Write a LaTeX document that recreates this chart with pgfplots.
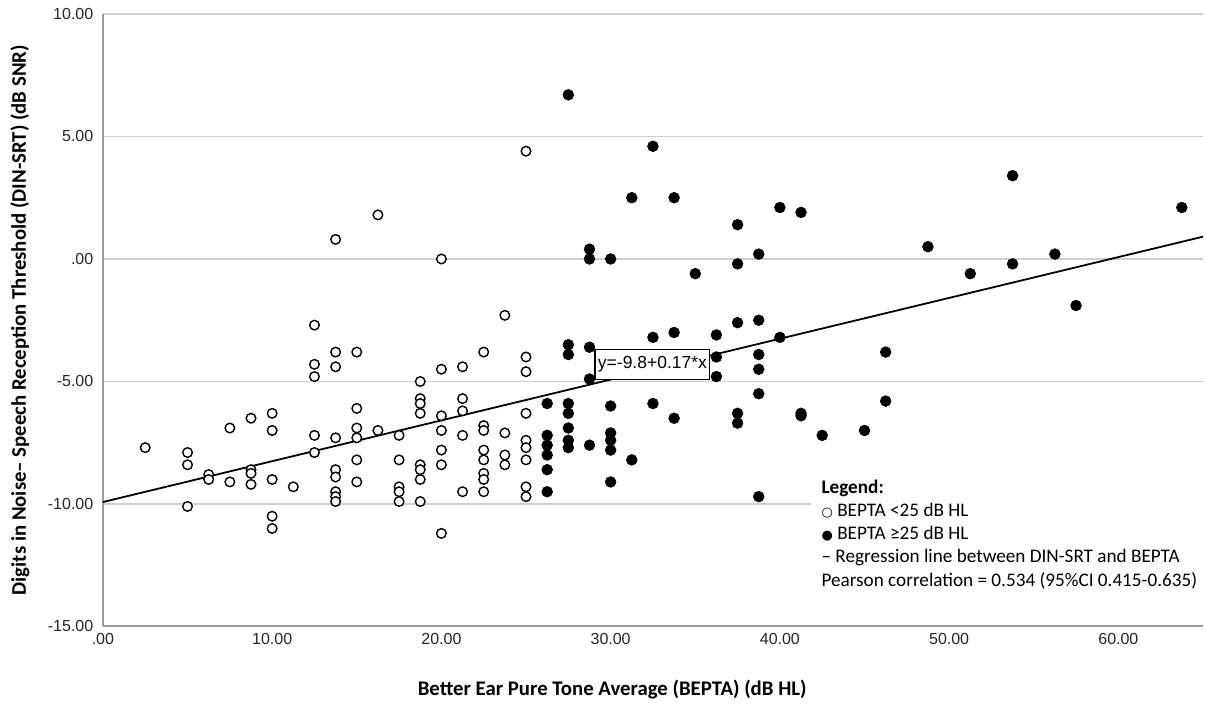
\documentclass[border=0pt]{standalone}
\usepackage{fontspec}
\setmainfont{Carlito}
\newfontfamily\arialf{Liberation Sans}
\newfontfamily\dejavu{DejaVu Sans}
\usepackage{pgfplots}
\pgfplotsset{compat=1.18}
\definecolor{gridgray}{HTML}{CFCFCF}
\definecolor{axgray}{HTML}{9A9A9A}

\begin{document}
\begin{tikzpicture}
\path[use as bounding box] (-51.5pt,-42.5pt) rectangle (552pt,313.5pt);
\begin{axis}[scale only axis, width=550.5pt, height=306.5pt,
 at={(0,0)}, anchor=south west,
 xmin=0, xmax=65, ymin=-15, ymax=10,
 xtick={0,10,...,60}, xticklabels={.00,10.00,20.00,30.00,40.00,50.00,60.00},
 ytick={-15,-10,...,10}, yticklabels={-15.00,-10.00,-5.00,.00,5.00,10.00},
 axis x line*=bottom, axis y line*=left,
 axis line style={-, draw=axgray, line width=1pt},
 ymajorgrids=true, grid style={gridgray, line width=0.8pt},
 major tick length=0pt,
 tick label style={font=\arialf\fontsize{8}{9}\selectfont, text=black!85},
 yticklabel style={xshift=-1.3pt},
 xlabel={Better Ear Pure Tone Average (BEPTA) (dB HL)},
 ylabel={Digits in Noise– Speech Reception Threshold (DIN-SRT) (dB SNR)},
 label style={font=\bfseries\fontsize{10.4}{12}\selectfont},
 xlabel style={at={(axis description cs:0.463,-0.1028)}, anchor=center},
 ylabel style={at={(axis description cs:-0.0754,0.5)}, anchor=center},
 clip=false]

% regression line
\addplot[black, line width=0.9pt] coordinates {(0,-9.92) (65,0.91)};
\node[draw=black, line width=0.6pt, fill=white, anchor=north west, inner xsep=1.5pt,
 minimum height=15pt, font=\arialf\fontsize{8.75}{10}\selectfont]
 at (axis cs:29.04,-3.67) {y=-9.8+0.17*x};

% BEPTA < 25 dB HL
\addplot[only marks, mark=*, mark size=2.4pt,
 mark options={fill=white, draw=black, line width=0.7pt}] coordinates {
 (2.5,-7.7)
 (5,-7.9) (5,-8.4) (5,-10.1)
 (6.25,-8.8) (6.25,-9.0)
 (7.5,-6.9) (7.5,-9.1)
 (8.75,-6.5) (8.75,-8.6) (8.75,-8.75) (8.75,-9.2)
 (10,-6.3) (10,-7.0) (10,-9.0) (10,-10.5) (10,-11.0)
 (11.25,-9.3)
 (12.5,-2.7) (12.5,-4.3) (12.5,-4.8) (12.5,-7.2) (12.5,-7.9)
 (13.75,0.8) (13.75,-3.8) (13.75,-4.4) (13.75,-7.3) (13.75,-8.6) (13.75,-8.9)
 (13.75,-9.5) (13.75,-9.7) (13.75,-9.9)
 (15,-3.8) (15,-6.1) (15,-6.9) (15,-7.3) (15,-8.2) (15,-9.1)
 (16.25,1.8) (16.25,-7.0)
 (17.5,-7.2) (17.5,-8.2) (17.5,-9.3) (17.5,-9.5) (17.5,-9.9)
 (18.75,-5.0) (18.75,-5.7) (18.75,-5.9) (18.75,-6.3) (18.75,-8.4) (18.75,-8.6)
 (18.75,-9.0) (18.75,-9.9)
 (20,0.0) (20,-4.5) (20,-6.4) (20,-7.0) (20,-7.8) (20,-8.4) (20,-11.2)
 (21.25,-4.4) (21.25,-5.7) (21.25,-6.2) (21.25,-7.2) (21.25,-9.5)
 (22.5,-3.8) (22.5,-6.8) (22.5,-7.0) (22.5,-7.8) (22.5,-8.2) (22.5,-8.75)
 (22.5,-9.0) (22.5,-9.5)
 (23.75,-2.3) (23.75,-7.1) (23.75,-8.0) (23.75,-8.4)
 (25,4.4) (25,-4.0) (25,-4.6) (25,-6.3) (25,-7.4) (25,-7.7) (25,-8.2)
 (25,-9.3) (25,-9.7)
};

% BEPTA >= 25 dB HL
\addplot[only marks, mark=*, mark size=2.7pt,
 mark options={fill=black, draw=black, line width=0.3pt}] coordinates {
 (26.25,-5.9) (26.25,-7.2) (26.25,-7.6) (26.25,-8.0) (26.25,-8.6) (26.25,-9.5)
 (27.5,6.7) (27.5,-3.5) (27.5,-3.9) (27.5,-5.9) (27.5,-6.3) (27.5,-6.9)
 (27.5,-7.4) (27.5,-7.7)
 (28.75,0.4) (28.75,0.0) (28.75,-3.6) (28.75,-4.9) (28.75,-7.6)
 (30,0.0) (30,-6.0) (30,-7.1) (30,-7.4) (30,-7.8) (30,-9.1)
 (31.25,2.5) (31.25,-8.2)
 (32.5,4.6) (32.5,-3.2) (32.5,-5.9)
 (33.75,2.5) (33.75,-3.0) (33.75,-6.5)
 (35,-0.6)
 (36.25,-3.1) (36.25,-4.0) (36.25,-4.8)
 (37.5,1.4) (37.5,-0.2) (37.5,-2.6) (37.5,-6.3) (37.5,-6.7)
 (38.75,0.2) (38.75,-2.5) (38.75,-3.9) (38.75,-4.5) (38.75,-5.5) (38.75,-9.7)
 (40,2.1) (40,-3.2)
 (41.25,1.9) (41.25,-6.3) (41.25,-6.4)
 (42.5,-7.2) (45,-7.0)
 (46.25,-3.8) (46.25,-5.8)
 (48.75,0.5) (51.25,-0.6)
 (53.75,3.4) (53.75,-0.2)
 (56.25,0.2) (57.5,-1.9) (63.75,2.1)
};

% legend block, its white box hides the -10 grid line on the right
\fill[white] (axis cs:41.85,-9.5) rectangle (axis cs:65.2,-10.5);
\node[anchor=north west, fill=white, inner xsep=5pt, inner ysep=3pt, align=left,
 font=\fontsize{9.6}{11.6}\selectfont] at (axis cs:41.85,-8.76)
 {\textbf{Legend:}\\
 {\dejavu\fontsize{6.5}{6}\selectfont ○} BEPTA <25 dB HL\\
 {\dejavu\fontsize{6.5}{6}\selectfont ●} BEPTA ≥25 dB HL\\
 – Regression line between DIN-SRT and BEPTA\\
 Pearson correlation = 0.534 (95\%CI 0.415-0.635)};
\end{axis}
\end{tikzpicture}
\end{document}
